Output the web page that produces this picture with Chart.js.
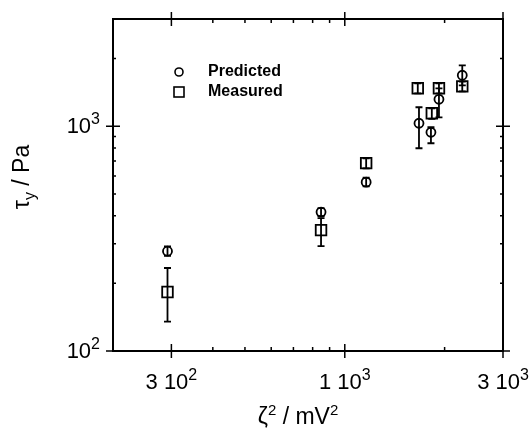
<!DOCTYPE html>
<html>
<head>
<meta charset="utf-8">
<script src="https://cdn.jsdelivr.net/npm/chart.js@4"></script>
<style>
  body { margin: 0; background: #fff; }
  #wrap { width: 530px; height: 431px; }
</style>
</head>
<body>
<div id="wrap"><canvas id="chart" width="530" height="431"></canvas></div>
<script>
// values (zeta^2 in mV^2, tau_y in Pa)
const predX  = [292, 848, 1160, 1674, 1819, 1923, 2261];
const predY  = [278, 415, 564, 1031, 940, 1318, 1686];
const predLo = [265, 398, 540, 798, 840, 1096, 1520];
const predHi = [292, 432, 590, 1215, 990, 1475, 1866];

const measX  = [292, 848, 1160, 1660, 1830, 1923, 2261];
const measY  = [183, 345, 685, 1476, 1142, 1476, 1505];
const measLo = [135, 293, 650, 1400, 1080, 1400, 1430];
const measHi = [234, 390, 720, 1550, 1200, 1550, 1580];

const xTickValues = [200, 300, 400, 500, 600, 700, 800, 900, 1000, 2000, 3000];
const xMajorTicks = [300, 1000, 3000];
const xTickLabels = [['3 10', '2'], ['1 10', '3'], ['3 10', '3']];

const yTickValues = [100, 200, 300, 400, 500, 600, 700, 800, 900, 1000, 2000, 3000];
const yMajorTicks = [100, 1000];
const yTickLabels = [['10', '2'], ['10', '3']];

const seriesNames = ['Predicted', 'Measured'];

const FONT = '"Liberation Sans", Arial, sans-serif';

// draws "base" with a raised "sup", aligned at x (left/center/right)
function supText(ctx, base, sup, x, y, align, size, supSize, rise) {
  ctx.font = size + 'px ' + FONT;
  const wb = ctx.measureText(base).width;
  ctx.font = supSize + 'px ' + FONT;
  const ws = ctx.measureText(sup).width;
  const w = wb + ws;
  let sx = align === 'center' ? x - w / 2 : align === 'right' ? x - w : x;
  ctx.textAlign = 'left';
  ctx.font = size + 'px ' + FONT;
  ctx.fillText(base, sx, y);
  ctx.font = supSize + 'px ' + FONT;
  ctx.fillText(sup, sx + wb, y - rise);
  return w;
}

const errorBars = {
  id: 'errorBars',
  beforeDatasetsDraw(chart) {
    const { ctx, scales: { x, y } } = chart;
    ctx.save();
    ctx.strokeStyle = '#000';
    ctx.lineWidth = 1.8;
    const sets = [[predX, predLo, predHi], [measX, measLo, measHi]];
    sets.forEach(([xs, lo, hi]) => {
      xs.forEach((v, i) => {
        const px = x.getPixelForValue(v);
        const p1 = y.getPixelForValue(lo[i]);
        const p2 = y.getPixelForValue(hi[i]);
        ctx.beginPath();
        ctx.moveTo(px, p1); ctx.lineTo(px, p2);
        ctx.moveTo(px - 3.5, p1); ctx.lineTo(px + 3.5, p1);
        ctx.moveTo(px - 3.5, p2); ctx.lineTo(px + 3.5, p2);
        ctx.stroke();
      });
    });
    ctx.restore();
  }
};

const frame = {
  id: 'frame',
  afterDraw(chart) {
    const { ctx, chartArea: a, scales: { x, y } } = chart;
    ctx.save();
    ctx.strokeStyle = '#000';
    ctx.fillStyle = '#000';
    ctx.lineWidth = 2;
    ctx.strokeRect(a.left, a.top, a.right - a.left, a.bottom - a.top);
    ctx.lineWidth = 1.5;
    ctx.beginPath();
    x.ticks.forEach(t => {
      const px = x.getPixelForValue(t.value);
      if (xMajorTicks.includes(t.value)) {
        ctx.moveTo(px, a.bottom - 7); ctx.lineTo(px, a.bottom + 7);
        ctx.moveTo(px, a.top - 7); ctx.lineTo(px, a.top + 7);
      } else {
        ctx.moveTo(px, a.bottom); ctx.lineTo(px, a.bottom - 4);
        ctx.moveTo(px, a.top); ctx.lineTo(px, a.top + 4);
      }
    });
    y.ticks.forEach(t => {
      const py = y.getPixelForValue(t.value);
      if (yMajorTicks.includes(t.value)) {
        ctx.moveTo(a.left - 7, py); ctx.lineTo(a.left + 7, py);
        ctx.moveTo(a.right - 7, py); ctx.lineTo(a.right + 7, py);
      } else {
        ctx.moveTo(a.left, py); ctx.lineTo(a.left + 3, py);
        ctx.moveTo(a.right, py); ctx.lineTo(a.right - 3, py);
      }
    });
    ctx.stroke();

    // tick labels
    ctx.textBaseline = 'alphabetic';
    xMajorTicks.forEach((v, i) => {
      const px = x.getPixelForValue(v);
      supText(ctx, xTickLabels[i][0], xTickLabels[i][1], px, a.bottom + 38, 'center', 22, 16, 9);
    });
    yMajorTicks.forEach((v, i) => {
      const py = y.getPixelForValue(v);
      supText(ctx, yTickLabels[i][0], yTickLabels[i][1], a.left - 13, py + 7, 'right', 22, 16, 9);
    });

    // legend inside the plot
    ctx.lineWidth = 1.6;
    ctx.beginPath();
    ctx.arc(179, 72, 4, 0, Math.PI * 2);
    ctx.stroke();
    ctx.strokeRect(174, 87, 10, 10);
    ctx.font = 'bold 16px ' + FONT;
    ctx.textBaseline = 'middle';
    ctx.textAlign = 'left';
    ctx.fillText(seriesNames[0], 208, 72);
    ctx.fillText(seriesNames[1], 208, 92);

    // x axis title: zeta^2 / mV^2
    ctx.textBaseline = 'alphabetic';
    ctx.font = '23px ' + FONT;
    const wz = ctx.measureText('ζ').width, wm = ctx.measureText(' / mV').width;
    ctx.font = '15px ' + FONT;
    const w2 = ctx.measureText('2').width;
    let cx = 298 - (wz + wm + 2 * w2) / 2;
    ctx.font = '23px ' + FONT; ctx.fillText('ζ', cx, 424); cx += wz;
    ctx.font = '15px ' + FONT; ctx.fillText('2', cx, 415); cx += w2;
    ctx.font = '23px ' + FONT; ctx.fillText(' / mV', cx, 424); cx += wm;
    ctx.font = '15px ' + FONT; ctx.fillText('2', cx, 415);

    // y axis title: tau_y / Pa
    ctx.translate(29, 177);
    ctx.rotate(-Math.PI / 2);
    const big = '23px ' + FONT, small = '16px ' + FONT;
    ctx.font = big; const w1 = ctx.measureText('τ').width;
    ctx.font = small; const wy = ctx.measureText('y').width;
    ctx.font = big; const w3 = ctx.measureText(' / Pa').width;
    cx = -(w1 + wy + w3) / 2;
    ctx.font = big; ctx.fillText('τ', cx, 0); cx += w1;
    ctx.font = small; ctx.fillText('y', cx, 6); cx += wy;
    ctx.font = big; ctx.fillText(' / Pa', cx, 0);
    ctx.restore();
  }
};

new Chart(document.getElementById('chart'), {
  type: 'scatter',
  data: {
    datasets: [
      {
        label: seriesNames[0],
        data: predX.map((v, i) => ({ x: v, y: predY[i] })),
        pointStyle: 'circle',
        pointRadius: 4.5,
        pointBorderWidth: 1.8,
        borderColor: '#000',
        backgroundColor: 'rgba(0,0,0,0)'
      },
      {
        label: seriesNames[1],
        data: measX.map((v, i) => ({ x: v, y: measY[i] })),
        pointStyle: 'rect',
        pointRadius: 7.5,
        pointBorderWidth: 1.8,
        borderColor: '#000',
        backgroundColor: 'rgba(0,0,0,0)'
      }
    ]
  },
  options: {
    responsive: false,
    animation: false,
    layout: { padding: { top: 19, right: 27, left: 0, bottom: 0 } },
    plugins: { legend: { display: false }, tooltip: { enabled: false } },
    scales: {
      x: {
        type: 'logarithmic',
        min: 200,
        max: 3000,
        afterBuildTicks: s => { s.ticks = xTickValues.map(v => ({ value: v })); },
        afterFit: s => { s.height = 80; s.paddingLeft = 0; s.paddingRight = 0; },
        grid: { display: false, drawTicks: false },
        border: { display: false },
        ticks: { display: false }
      },
      y: {
        type: 'logarithmic',
        min: 100,
        max: 3000,
        afterBuildTicks: s => { s.ticks = yTickValues.map(v => ({ value: v })); },
        afterFit: s => { s.width = 113; s.paddingTop = 0; s.paddingBottom = 0; },
        grid: { display: false, drawTicks: false },
        border: { display: false },
        ticks: { display: false }
      }
    }
  },
  plugins: [errorBars, frame]
});
</script>
</body>
</html>
